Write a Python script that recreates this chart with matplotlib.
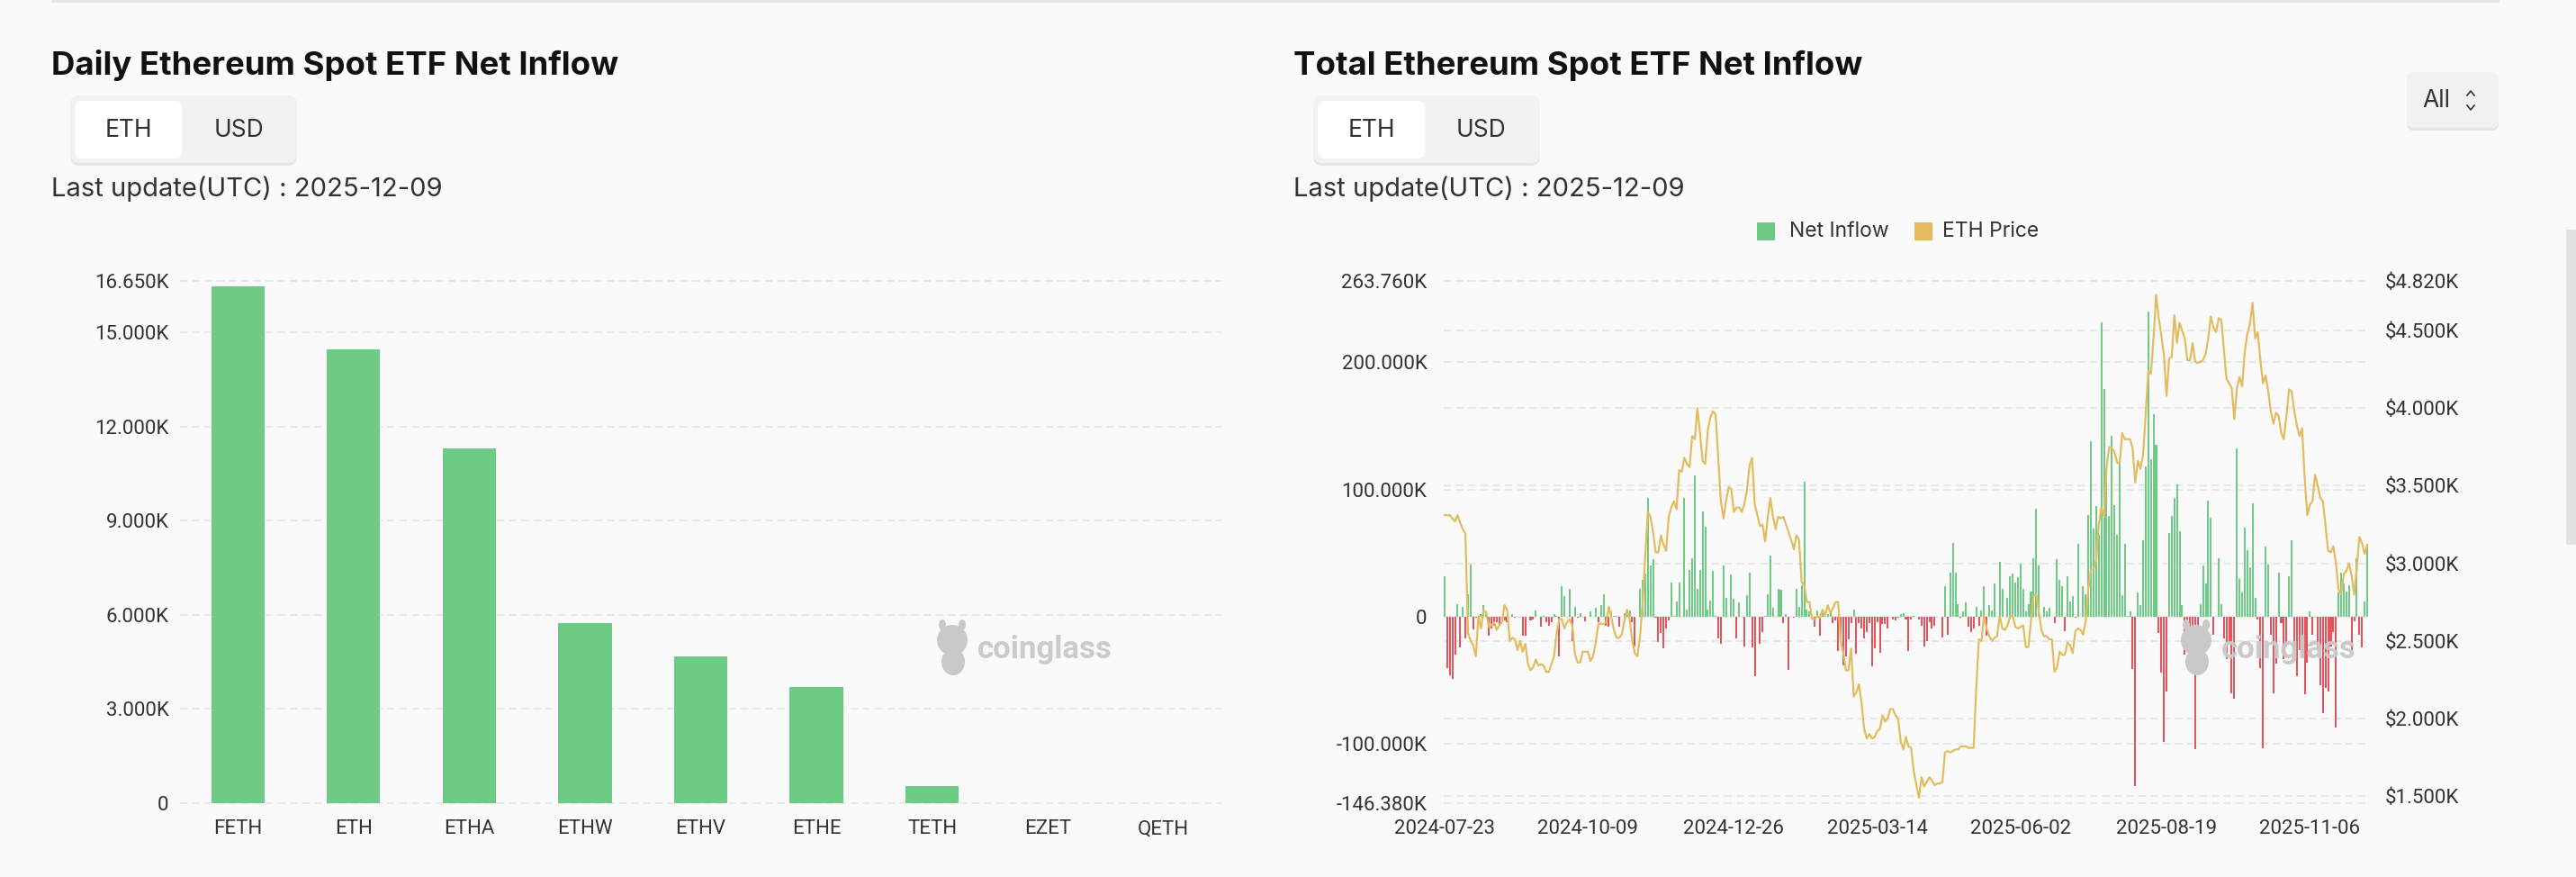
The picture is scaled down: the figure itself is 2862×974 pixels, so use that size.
import numpy as np
import matplotlib.pyplot as plt
from matplotlib.patches import FancyBboxPatch, Rectangle, Ellipse, Circle
from matplotlib.transforms import blended_transform_factory

# ---- data -------------------------------------------------------------
funds = ["FETH", "ETH", "ETHA", "ETHW", "ETHV", "ETHE", "TETH", "EZET", "QETH"]
fund_inflow_k = [16.49, 14.47, 11.31, 5.73, 4.68, 3.69, 0.55, 0, 0]  # thousand ETH
daily_ticks = [0, 3, 6, 9, 12, 15, 16.65]

date_labels = ["2024-07-23", "2024-10-09", "2024-12-26", "2025-03-14",
               "2025-06-02", "2025-08-19", "2025-11-06"]
date_tick_pos = [0, 55, 111, 166, 221, 277, 332]

# daily net inflow, thousand ETH
net_inflow_k = [
    32, -40, -46, -49, -30, 10, -24, 8, -17, 18,
    41, -10, -1, -5, 2, 9, 4, -15, -9, -7,
    -4, -7, -2, -3, -4, 0, 2, -1, 0, 0,
    -15, -15, 0, -3, -2, 5, 0, -8, 0.5, -4,
    -7, -4, 2, 1, -31, 24, 16, 0, 22, -19,
    8, -1, 3, 0, -3.5, 0, 4, 0, 7, -4,
    9, 18, -7, -8, 4, 1, 0.5, -8, 0, 3,
    2, 5, -4, -23, 0, 22, 29, 34, 93, 40,
    45, -1, -20, -13, -25, -9, -3, 27, 0.5, 12,
    27, 0, 93, 6, 37, 46, 111, 22, 37, 83,
    71, 6, 13, 36, 0.5, -17, -21, 40, 15, 0,
    33, 14, -17, 11, 0, -23, 17, 35, -24, -47,
    0, -21, -12, 0.5, 18, 48, 7, 0, 22, 21,
    -5, 2, -42, 0, -1, 22, 8, 25, 106, 6,
    4, 0, -8, 5, -15, 4, 0, 2, 5, -5,
    -3, -27, -19, -38, -31, -18, -5, 6, -29, -5,
    -9, -17, -12, -5, -39, -25, -4, -28, -6, -6,
    -9, 0, -2, -3, -1, 2, 3, -2, -27, -2,
    1, 0, -2, -7, -23, -19, -4, -9, -7, 0,
    0, -16, 24, -14, 35, 58, 35, 10, -1, 4,
    11, -8, -12, -9, 8, -7, 5, 24, -15, 9,
    5, 26, 0, 43, 22, 0, 15, 32, 34, 27,
    31, 42, 22, 4, 10, 20, 46, 85, 40, 0,
    8, 4, 7, 0, -5, 45, 29, 24, -11, 32,
    12, 16, -1, 57, 0, 24, 18, 80, 138, 69,
    87, 64, 231, 179, 116, 79, 142, 88, 64, 122,
    17, 57, 1, 4, -41, -133, 19, 9, 60, 118,
    240, 124, 159, 135, -13, -44, -98, -59, 66, 79,
    93, 104, 67, 9, -30, -7, -26, -38, -104, -23,
    10, 40, 26, 91, 78, -14, 0, 46, 10, -17,
    -33, -20, -60, -64, 132, 30, 19, 70, 52, 39,
    89, 15, -2, -40, -103, 55, 41, -14, -60, -37,
    35, -5, -33, -23, 32, 60, -26, -47, -26, -31,
    -61, -36, 4, -14, 0, -26, -54, -76, -56, -59,
    -23, -12, -87, 19, 35, 26, 20, 25, -26, -3.5,
    46, -14, -24, 12, 57,
]

# ETH price, thousand USD
eth_price_k = [
    3.31, 3.31, 3.31, 3.29, 3.27, 3.31, 3.26, 3.22, 3.19, 2.55,
    2.50, 2.47, 2.40, 2.66, 2.58, 2.70, 2.68, 2.59, 2.60, 2.62,
    2.57, 2.60, 2.62, 2.73, 2.70, 2.50, 2.52, 2.51, 2.44, 2.50,
    2.43, 2.48, 2.35, 2.31, 2.33, 2.38, 2.34, 2.35, 2.34, 2.30,
    2.30, 2.35, 2.40, 2.55, 2.64, 2.64, 2.58, 2.62, 2.64, 2.60,
    2.42, 2.36, 2.36, 2.43, 2.43, 2.43, 2.37, 2.40, 2.49, 2.61,
    2.61, 2.61, 2.62, 2.72, 2.65, 2.57, 2.52, 2.52, 2.54, 2.63,
    2.70, 2.64, 2.50, 2.42, 2.40, 2.53, 2.75, 3.05, 3.33, 3.30,
    3.20, 3.07, 3.07, 3.18, 3.12, 3.08, 3.30, 3.36, 3.40, 3.35,
    3.60, 3.59, 3.68, 3.64, 3.62, 3.82, 3.80, 4.00, 3.84, 3.66,
    3.64, 3.86, 3.94, 3.98, 3.96, 3.68, 3.40, 3.29, 3.40, 3.49,
    3.48, 3.33, 3.36, 3.36, 3.33, 3.38, 3.47, 3.63, 3.68, 3.38,
    3.31, 3.24, 3.25, 3.14, 3.30, 3.42, 3.30, 3.22, 3.30, 3.29,
    3.30, 3.25, 3.20, 3.15, 3.09, 3.18, 3.15, 2.88, 2.86, 2.75,
    2.75, 2.64, 2.64, 2.66, 2.65, 2.70, 2.66, 2.73, 2.68, 2.71,
    2.75, 2.75, 2.50, 2.42, 2.31, 2.31, 2.45, 2.14, 2.17, 2.22,
    2.10, 1.93, 1.87, 1.90, 1.87, 1.88, 1.92, 1.93, 2.02, 1.98,
    2.00, 2.06, 2.06, 2.02, 2.00, 1.85, 1.80, 1.88, 1.82, 1.81,
    1.66, 1.57, 1.49, 1.62, 1.56, 1.59, 1.62, 1.60, 1.57, 1.58,
    1.58, 1.59, 1.78, 1.79, 1.78, 1.79, 1.80, 1.80, 1.82, 1.82,
    1.82, 1.81, 1.81, 1.81, 2.20, 2.51, 2.50, 2.66, 2.58, 2.53,
    2.50, 2.52, 2.53, 2.66, 2.58, 2.57, 2.60, 2.66, 2.66, 2.59,
    2.58, 2.59, 2.60, 2.46, 2.46, 2.63, 2.79, 2.80, 2.69, 2.57,
    2.53, 2.53, 2.51, 2.51, 2.30, 2.33, 2.43, 2.41, 2.41, 2.49,
    2.47, 2.42, 2.56, 2.58, 2.57, 2.54, 2.63, 2.84, 2.96, 2.96,
    3.02, 3.25, 3.36, 3.30, 3.62, 3.75, 3.74, 3.72, 3.65, 3.64,
    3.84, 3.80, 3.80, 3.80, 3.74, 3.52, 3.66, 3.61, 3.70, 3.96,
    4.24, 4.22, 4.45, 4.73, 4.58, 4.47, 4.34, 4.08, 4.32, 4.33,
    4.60, 4.42, 4.55, 4.50, 4.45, 4.31, 4.31, 4.42, 4.30, 4.29,
    4.30, 4.31, 4.35, 4.45, 4.59, 4.52, 4.49, 4.58, 4.57, 4.38,
    4.19, 4.16, 4.13, 3.93, 4.13, 4.20, 4.14, 4.36, 4.48, 4.54,
    4.68, 4.45, 4.49, 4.31, 4.16, 4.21, 4.11, 3.98, 3.90, 3.97,
    3.95, 3.84, 3.80, 3.95, 4.12, 4.11, 3.98, 3.89, 3.82, 3.87,
    3.55, 3.31, 3.38, 3.40, 3.57, 3.50, 3.42, 3.40, 3.24, 3.08,
    3.07, 3.11, 3.00, 2.83, 2.80, 2.93, 2.95, 3.00, 2.92, 2.80,
    2.97, 3.17, 3.13, 3.06, 3.12,
]

inflow_ticks = [-146.38, -100, 0, 100, 200, 263.76]
price_ticks = [1.5, 2, 2.5, 3, 3.5, 4, 4.5, 4.82]
price_range = (1.4536, 4.82)

# ---- style ------------------------------------------------------------
GREEN = "#6dcb86"
RED = "#e5535c"
GOLD = "#e3bc5f"
BG = "#fafafa"
GRID = "#e8e8e8"
TXT = "#333333"
W, H = 2862, 974
UI_FONT = ['Inter', 'DejaVu Sans']

plt.rcParams['font.family'] = ['Roboto', 'DejaVu Sans']


def k_label(v):
    return "0" if v == 0 else f"{v:.3f}K"


def px_axes(fig, x0, y0, x1, y1):
    """axes from pixel box (top-left origin)"""
    return fig.add_axes([x0 / W, 1 - y1 / H, (x1 - x0) / W, (y1 - y0) / H])


def clean(ax):
    ax.set_facecolor("none")
    for s in ax.spines.values():
        s.set_visible(False)
    ax.tick_params(length=0, labelsize=16, labelcolor=TXT)


def hgrid(ax, values, trans=None):
    trans = trans or ax.get_yaxis_transform()
    for v in values:
        ax.plot([0, 1], [v, v], transform=trans, color=GRID, lw=1.5,
                ls=(0, (4, 2.5)), zorder=0, clip_on=False)


def toggle(ov, x0):
    ov.add_patch(FancyBboxPatch((x0, 108), 252, 76, boxstyle="round,pad=0,rounding_size=10",
                                fc="#e6e7ea", ec="none"))
    ov.add_patch(FancyBboxPatch((x0, 106), 252, 75, boxstyle="round,pad=0,rounding_size=10",
                                fc="#f1f2f4", ec="none"))
    ov.add_patch(FancyBboxPatch((x0 + 5, 112), 119, 64, boxstyle="round,pad=0,rounding_size=8",
                                fc="white", ec="none"))
    ov.text(x0 + 65, 145, "ETH", fontsize=19, color=TXT, ha="center", va="center",
            family=UI_FONT)
    ov.text(x0 + 187, 145, "USD", fontsize=19, color=TXT, ha="center", va="center",
            family=UI_FONT)


def watermark(ov, x, y):
    c = "#c9c9c9"
    ov.add_patch(Circle((x, y - 10), 17, fc=c, ec="none"))
    ov.add_patch(Ellipse((x + 1, y + 14), 26, 30, fc=c, ec="none"))
    ov.add_patch(Ellipse((x - 11, y - 27), 8, 12, fc=c, ec="none"))
    ov.add_patch(Ellipse((x + 11, y - 27), 8, 12, fc=c, ec="none"))
    ov.text(x + 28, y, "coinglass", fontsize=25, fontweight="bold", color=c,
            ha="left", va="center", alpha=0.95)


fig = plt.figure(figsize=(W / 100, H / 100), dpi=100)
fig.patch.set_facecolor(BG)

# ---- left: daily inflow by fund ---------------------------------------
ax1 = px_axes(fig, 200, 312, 1357, 892)
clean(ax1)
hgrid(ax1, daily_ticks)
ax1.bar(range(len(funds)), fund_inflow_k, width=0.46, color=GREEN, zorder=2)
ax1.set_xlim(-0.5, len(funds) - 0.5)
ax1.set_ylim(0, daily_ticks[-1])
ax1.set_yticks(daily_ticks)
ax1.set_yticklabels([k_label(v) for v in daily_ticks])
ax1.set_xticks(range(len(funds)))
ax1.set_xticklabels(funds)
ax1.tick_params(axis="y", pad=9)
ax1.tick_params(axis="x", pad=13)

# ---- right: total inflow + price --------------------------------------
n = len(net_inflow_k)
x = np.arange(n)
ax2 = px_axes(fig, 1603.5, 312, 2631.5, 892)
clean(ax2)
ax3 = ax2.twinx()
clean(ax3)
hgrid(ax2, inflow_ticks)
hgrid(ax2, price_ticks[:-1], blended_transform_factory(ax2.transAxes, ax3.transData))
ax3.set_ylim(*price_range)
colors = [GREEN if v >= 0 else RED for v in net_inflow_k]
ax2.bar(x, net_inflow_k, width=0.7, color=colors, zorder=2)
ax2.set_xlim(-0.5, n - 0.5)
ax2.set_ylim(inflow_ticks[0], inflow_ticks[-1])
ax2.set_yticks(inflow_ticks)
ax2.set_yticklabels([k_label(v) for v in inflow_ticks])
ax2.set_xticks(date_tick_pos)
ax2.set_xticklabels(date_labels)
ax2.tick_params(axis="y", pad=13)
ax2.tick_params(axis="x", pad=13)

ax3.plot(x, eth_price_k, color=GOLD, lw=1.6, zorder=3)
ax3.set_yticks(price_ticks)
ax3.set_yticklabels(["$" + f"{v:.3f}K" for v in price_ticks])
ax3.tick_params(axis="y", pad=13)

# ---- page furniture (pixel overlay) ------------------------------------
ov = fig.add_axes([0, 0, 1, 1], zorder=10)
ov.set_xlim(0, W)
ov.set_ylim(H, 0)
ov.axis("off")

ov.add_patch(Rectangle((57, 0), 2720, 3, fc="#e6e6e6", ec="none"))
ov.add_patch(Rectangle((2851, 255), 11, 350, fc="#e2e2e2", ec="none"))

for x0, title in [(57, "Daily Ethereum Spot ETF Net Inflow"),
                  (1437, "Total Ethereum Spot ETF Net Inflow")]:
    ov.text(x0, 83, title, fontsize=26.3, fontweight="bold", color="#111111",
            va="baseline", family=UI_FONT)
    ov.text(x0, 218, "Last update(UTC) : 2025-12-09", fontsize=21, color=TXT,
            va="baseline", family=UI_FONT)
toggle(ov, 78)
toggle(ov, 1459)

# "All" range selector
ov.add_patch(FancyBboxPatch((2674, 82), 102, 63, boxstyle="round,pad=0,rounding_size=8",
                            fc="#e4e5e8", ec="none"))
ov.add_patch(FancyBboxPatch((2674, 80), 102, 62, boxstyle="round,pad=0,rounding_size=8",
                            fc="#f1f2f4", ec="none"))
ov.text(2707, 112, "All", fontsize=19, color=TXT, ha="center", va="center", family=UI_FONT)
ov.plot([2741, 2745, 2749], [106, 101, 106], color=TXT, lw=1.2)
ov.plot([2741, 2745, 2749], [117, 122, 117], color=TXT, lw=1.2)

# legend
ov.add_patch(Rectangle((1952, 247), 20, 20, fc=GREEN, ec="none"))
ov.text(1988, 257, "Net Inflow", fontsize=16.5, color=TXT, va="center", family=UI_FONT)
ov.add_patch(Rectangle((2127, 247), 20, 20, fc=GOLD, ec="none"))
ov.text(2158, 257, "ETH Price", fontsize=16.5, color=TXT, va="center", family=UI_FONT)

watermark(ov, 1058, 721)
watermark(ov, 2440, 721)

fig.savefig("out.png", dpi=100, facecolor=BG)
